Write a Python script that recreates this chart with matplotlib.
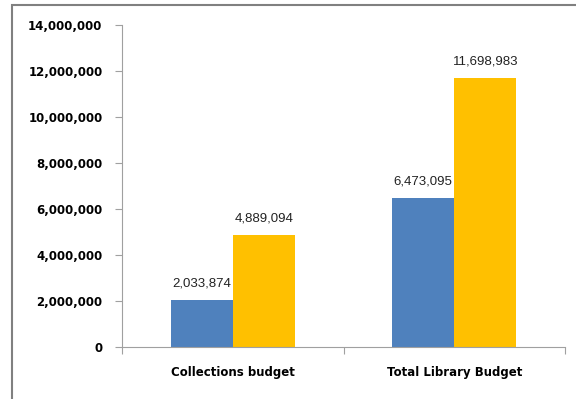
import matplotlib.pyplot as plt
from matplotlib.patches import Rectangle
from matplotlib.ticker import FuncFormatter
import numpy as np

categories = ['Collections budget', 'Total Library Budget']
series_a = [2033874, 6473095]
series_b = [4889094, 11698983]
y_ticks = [0, 2000000, 4000000, 6000000, 8000000, 10000000, 12000000, 14000000]

fig = plt.figure(figsize=(5.76, 3.99), dpi=100)
ax = fig.add_axes([0.2118, 0.1303, 0.981 - 0.2118, 0.9373 - 0.1303])

# outer chart frame
fig.patches.append(Rectangle((12 / 576, -0.1), 1.2, 0.1 + (399 - 5) / 399,
                             transform=fig.transFigure, fill=False,
                             edgecolor='#808080', linewidth=1.5))

x = np.arange(len(categories))
w = 0.28
bars_a = ax.bar(x - w / 2, series_a, w, color='#4F81BD')
bars_b = ax.bar(x + w / 2, series_b, w, color='#FFC000')

for bars in (bars_a, bars_b):
    for b in bars:
        ax.annotate(f'{int(b.get_height()):,}', (b.get_x() + b.get_width() / 2, b.get_height()),
                    xytext=(0, 7.5), textcoords='offset points', ha='center', va='bottom',
                    fontsize=9.5, family='Liberation Sans', color='#222222')

ax.set_xlim(-0.5, 1.5)
ax.set_ylim(0, 14000000)
ax.set_yticks(y_ticks)
ax.yaxis.set_major_formatter(FuncFormatter(lambda v, p: f'{int(v):,}'))
for lab in ax.get_yticklabels():
    lab.set_fontweight('bold')
    lab.set_fontsize(8.5)

ax.set_xticks([-0.5, 0.5, 1.5])
ax.set_xticklabels([])
ax.set_xticks(x, minor=True)
ax.set_xticklabels(categories, minor=True, fontweight='bold', fontsize=8.5)
ax.tick_params(axis='x', which='minor', length=0, pad=14)
ax.tick_params(axis='x', which='major', length=5, color='#a0a0a0')
ax.tick_params(axis='y', length=5, color='#a0a0a0', pad=9)

for s in ('top', 'right'):
    ax.spines[s].set_visible(False)
for s in ('left', 'bottom'):
    ax.spines[s].set_color('#a0a0a0')

fig.savefig('out.png', dpi=100)
